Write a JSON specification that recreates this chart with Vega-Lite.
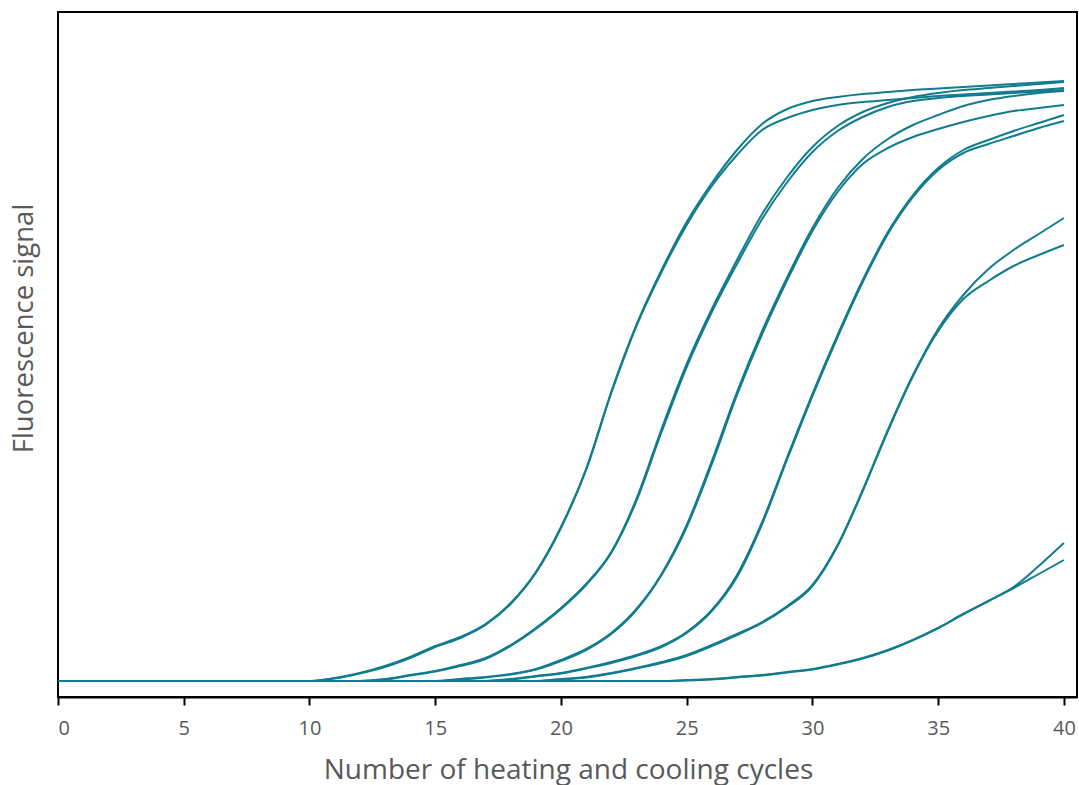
{
  "$schema": "https://vega.github.io/schema/vega-lite/v6.json",
  "autosize": "none",
  "width": 1019,
  "height": 685,
  "padding": {"left": 58, "top": 12, "right": 2, "bottom": 88},
  "background": "white",
  "config": {
    "view": {"stroke": "black", "strokeWidth": 2},
    "font": "Open Sans"
  },
  "data": {"values": [
    {"s":"A1","c":0,"v":16},{"s":"A1","c":10,"v":16},{"s":"A1","c":11,"v":19},{"s":"A1","c":12,"v":24},{"s":"A1","c":13,"v":31},{"s":"A1","c":14,"v":40},{"s":"A1","c":15,"v":51},{"s":"A1","c":16,"v":60},{"s":"A1","c":17,"v":73},{"s":"A1","c":18,"v":94},{"s":"A1","c":19,"v":125},{"s":"A1","c":20,"v":170},{"s":"A1","c":21,"v":228},{"s":"A1","c":22,"v":305},{"s":"A1","c":23,"v":372},{"s":"A1","c":24,"v":427},{"s":"A1","c":25,"v":475},{"s":"A1","c":26,"v":514},{"s":"A1","c":27,"v":547},{"s":"A1","c":28,"v":573},{"s":"A1","c":29,"v":588},{"s":"A1","c":30,"v":596},{"s":"A1","c":31,"v":600},{"s":"A1","c":32,"v":603},{"s":"A1","c":33,"v":605},{"s":"A1","c":34,"v":607},{"s":"A1","c":35,"v":608.5},{"s":"A1","c":36,"v":610},{"s":"A1","c":37,"v":611.5},{"s":"A1","c":38,"v":613},{"s":"A1","c":39,"v":614.5},{"s":"A1","c":40,"v":616},
    {"s":"A2","c":0,"v":16},{"s":"A2","c":10,"v":16},{"s":"A2","c":11,"v":18.5},{"s":"A2","c":12,"v":23.5},{"s":"A2","c":13,"v":30},{"s":"A2","c":14,"v":39},{"s":"A2","c":15,"v":50},{"s":"A2","c":16,"v":59},{"s":"A2","c":17,"v":72},{"s":"A2","c":18,"v":93},{"s":"A2","c":19,"v":124},{"s":"A2","c":20,"v":169},{"s":"A2","c":21,"v":227},{"s":"A2","c":22,"v":304},{"s":"A2","c":23,"v":371},{"s":"A2","c":24,"v":425},{"s":"A2","c":25,"v":472},{"s":"A2","c":26,"v":511},{"s":"A2","c":27,"v":542},{"s":"A2","c":28,"v":567},{"s":"A2","c":29,"v":579},{"s":"A2","c":30,"v":587},{"s":"A2","c":31,"v":592},{"s":"A2","c":32,"v":595},{"s":"A2","c":33,"v":597},{"s":"A2","c":34,"v":599},{"s":"A2","c":35,"v":601},{"s":"A2","c":36,"v":602.5},{"s":"A2","c":37,"v":604},{"s":"A2","c":38,"v":605.5},{"s":"A2","c":39,"v":607},{"s":"A2","c":40,"v":609},
    {"s":"B1","c":0,"v":16},{"s":"B1","c":12,"v":16},{"s":"B1","c":13,"v":18},{"s":"B1","c":14,"v":22},{"s":"B1","c":15,"v":26},{"s":"B1","c":16,"v":32},{"s":"B1","c":17,"v":39},{"s":"B1","c":18,"v":52},{"s":"B1","c":19,"v":69},{"s":"B1","c":20,"v":89},{"s":"B1","c":21,"v":113},{"s":"B1","c":22,"v":145},{"s":"B1","c":23,"v":198},{"s":"B1","c":24,"v":268},{"s":"B1","c":25,"v":333},{"s":"B1","c":26,"v":388},{"s":"B1","c":27,"v":437},{"s":"B1","c":28,"v":483},{"s":"B1","c":29,"v":520},{"s":"B1","c":30,"v":550},{"s":"B1","c":31,"v":571},{"s":"B1","c":32,"v":585},{"s":"B1","c":33,"v":594},{"s":"B1","c":34,"v":600},{"s":"B1","c":35,"v":604},{"s":"B1","c":36,"v":607},{"s":"B1","c":37,"v":609},{"s":"B1","c":38,"v":611},{"s":"B1","c":39,"v":613},{"s":"B1","c":40,"v":615},
    {"s":"B2","c":0,"v":16},{"s":"B2","c":12,"v":16},{"s":"B2","c":13,"v":17.5},{"s":"B2","c":14,"v":21.5},{"s":"B2","c":15,"v":25.5},{"s":"B2","c":16,"v":31},{"s":"B2","c":17,"v":38},{"s":"B2","c":18,"v":51},{"s":"B2","c":19,"v":68},{"s":"B2","c":20,"v":88},{"s":"B2","c":21,"v":112},{"s":"B2","c":22,"v":144},{"s":"B2","c":23,"v":196},{"s":"B2","c":24,"v":265},{"s":"B2","c":25,"v":330},{"s":"B2","c":26,"v":385},{"s":"B2","c":27,"v":433},{"s":"B2","c":28,"v":478},{"s":"B2","c":29,"v":515},{"s":"B2","c":30,"v":545},{"s":"B2","c":31,"v":566},{"s":"B2","c":32,"v":580},{"s":"B2","c":33,"v":590},{"s":"B2","c":34,"v":596},{"s":"B2","c":35,"v":599},{"s":"B2","c":36,"v":601},{"s":"B2","c":37,"v":602.5},{"s":"B2","c":38,"v":604},{"s":"B2","c":39,"v":605.5},{"s":"B2","c":40,"v":607},
    {"s":"C1","c":0,"v":16},{"s":"C1","c":15,"v":16},{"s":"C1","c":16,"v":18},{"s":"C1","c":17,"v":20},{"s":"C1","c":18,"v":23},{"s":"C1","c":19,"v":28},{"s":"C1","c":20,"v":37},{"s":"C1","c":21,"v":48},{"s":"C1","c":22,"v":64},{"s":"C1","c":23,"v":88},{"s":"C1","c":24,"v":123},{"s":"C1","c":25,"v":172},{"s":"C1","c":26,"v":236},{"s":"C1","c":27,"v":305},{"s":"C1","c":28,"v":366},{"s":"C1","c":29,"v":420},{"s":"C1","c":30,"v":469},{"s":"C1","c":31,"v":509},{"s":"C1","c":32,"v":538},{"s":"C1","c":33,"v":558},{"s":"C1","c":34,"v":572},{"s":"C1","c":35,"v":582},{"s":"C1","c":36,"v":591},{"s":"C1","c":37,"v":597},{"s":"C1","c":38,"v":601},{"s":"C1","c":39,"v":604},{"s":"C1","c":40,"v":606},
    {"s":"C2","c":0,"v":16},{"s":"C2","c":15,"v":16},{"s":"C2","c":16,"v":17.5},{"s":"C2","c":17,"v":19.5},{"s":"C2","c":18,"v":22.5},{"s":"C2","c":19,"v":27.5},{"s":"C2","c":20,"v":36},{"s":"C2","c":21,"v":47},{"s":"C2","c":22,"v":63},{"s":"C2","c":23,"v":87},{"s":"C2","c":24,"v":122},{"s":"C2","c":25,"v":170},{"s":"C2","c":26,"v":233},{"s":"C2","c":27,"v":302},{"s":"C2","c":28,"v":363},{"s":"C2","c":29,"v":417},{"s":"C2","c":30,"v":466},{"s":"C2","c":31,"v":505},{"s":"C2","c":32,"v":533},{"s":"C2","c":33,"v":549},{"s":"C2","c":34,"v":560},{"s":"C2","c":35,"v":568},{"s":"C2","c":36,"v":575},{"s":"C2","c":37,"v":581},{"s":"C2","c":38,"v":586},{"s":"C2","c":39,"v":589},{"s":"C2","c":40,"v":592},
    {"s":"D1","c":0,"v":16},{"s":"D1","c":17,"v":16},{"s":"D1","c":18,"v":18},{"s":"D1","c":19,"v":21},{"s":"D1","c":20,"v":24},{"s":"D1","c":21,"v":29},{"s":"D1","c":22,"v":35},{"s":"D1","c":23,"v":42},{"s":"D1","c":24,"v":51},{"s":"D1","c":25,"v":65},{"s":"D1","c":26,"v":87},{"s":"D1","c":27,"v":122},{"s":"D1","c":28,"v":175},{"s":"D1","c":29,"v":240},{"s":"D1","c":30,"v":303},{"s":"D1","c":31,"v":362},{"s":"D1","c":32,"v":417},{"s":"D1","c":33,"v":465},{"s":"D1","c":34,"v":502},{"s":"D1","c":35,"v":529},{"s":"D1","c":36,"v":547},{"s":"D1","c":37,"v":557},{"s":"D1","c":38,"v":566},{"s":"D1","c":39,"v":574},{"s":"D1","c":40,"v":582},
    {"s":"D2","c":0,"v":16},{"s":"D2","c":17,"v":16},{"s":"D2","c":18,"v":17.5},{"s":"D2","c":19,"v":20.5},{"s":"D2","c":20,"v":23.5},{"s":"D2","c":21,"v":28.5},{"s":"D2","c":22,"v":34},{"s":"D2","c":23,"v":41},{"s":"D2","c":24,"v":50},{"s":"D2","c":25,"v":64},{"s":"D2","c":26,"v":86},{"s":"D2","c":27,"v":120},{"s":"D2","c":28,"v":173},{"s":"D2","c":29,"v":238},{"s":"D2","c":30,"v":301},{"s":"D2","c":31,"v":360},{"s":"D2","c":32,"v":415},{"s":"D2","c":33,"v":463},{"s":"D2","c":34,"v":500},{"s":"D2","c":35,"v":527},{"s":"D2","c":36,"v":544},{"s":"D2","c":37,"v":553},{"s":"D2","c":38,"v":561},{"s":"D2","c":39,"v":569},{"s":"D2","c":40,"v":576},
    {"s":"E1","c":0,"v":16},{"s":"E1","c":19,"v":16},{"s":"E1","c":20,"v":18},{"s":"E1","c":21,"v":20},{"s":"E1","c":22,"v":24},{"s":"E1","c":23,"v":29},{"s":"E1","c":24,"v":35},{"s":"E1","c":25,"v":42},{"s":"E1","c":26,"v":52},{"s":"E1","c":27,"v":63},{"s":"E1","c":28,"v":75},{"s":"E1","c":29,"v":91},{"s":"E1","c":30,"v":112},{"s":"E1","c":31,"v":152},{"s":"E1","c":32,"v":207},{"s":"E1","c":33,"v":267},{"s":"E1","c":34,"v":322},{"s":"E1","c":35,"v":368},{"s":"E1","c":36,"v":402},{"s":"E1","c":37,"v":428},{"s":"E1","c":38,"v":447},{"s":"E1","c":39,"v":463},{"s":"E1","c":40,"v":479},
    {"s":"E2","c":0,"v":16},{"s":"E2","c":19,"v":16},{"s":"E2","c":20,"v":17.5},{"s":"E2","c":21,"v":19.5},{"s":"E2","c":22,"v":23.5},{"s":"E2","c":23,"v":28.5},{"s":"E2","c":24,"v":34},{"s":"E2","c":25,"v":41},{"s":"E2","c":26,"v":51},{"s":"E2","c":27,"v":62},{"s":"E2","c":28,"v":74},{"s":"E2","c":29,"v":90},{"s":"E2","c":30,"v":111},{"s":"E2","c":31,"v":151},{"s":"E2","c":32,"v":206},{"s":"E2","c":33,"v":266},{"s":"E2","c":34,"v":321},{"s":"E2","c":35,"v":366},{"s":"E2","c":36,"v":398},{"s":"E2","c":37,"v":416},{"s":"E2","c":38,"v":431},{"s":"E2","c":39,"v":442},{"s":"E2","c":40,"v":452},
    {"s":"F1","c":0,"v":16},{"s":"F1","c":24,"v":16},{"s":"F1","c":25,"v":17},{"s":"F1","c":26,"v":18},{"s":"F1","c":27,"v":20},{"s":"F1","c":28,"v":22},{"s":"F1","c":29,"v":25},{"s":"F1","c":30,"v":28},{"s":"F1","c":31,"v":33},{"s":"F1","c":32,"v":39},{"s":"F1","c":33,"v":47},{"s":"F1","c":34,"v":57},{"s":"F1","c":35,"v":69},{"s":"F1","c":36,"v":83},{"s":"F1","c":37,"v":96},{"s":"F1","c":38,"v":110},{"s":"F1","c":39,"v":131},{"s":"F1","c":40,"v":154},
    {"s":"F2","c":0,"v":16},{"s":"F2","c":24,"v":16},{"s":"F2","c":25,"v":16.5},{"s":"F2","c":26,"v":17.5},{"s":"F2","c":27,"v":19.5},{"s":"F2","c":28,"v":21.5},{"s":"F2","c":29,"v":24.5},{"s":"F2","c":30,"v":27.5},{"s":"F2","c":31,"v":32.5},{"s":"F2","c":32,"v":38.5},{"s":"F2","c":33,"v":46.5},{"s":"F2","c":34,"v":57},{"s":"F2","c":35,"v":69},{"s":"F2","c":36,"v":83},{"s":"F2","c":37,"v":96},{"s":"F2","c":38,"v":109},{"s":"F2","c":39,"v":123},{"s":"F2","c":40,"v":137}
  ]},
  "mark": {"type": "line", "interpolate": "monotone", "color": "#107C8D", "strokeWidth": 2},
  "encoding": {
    "detail": {"field": "s", "type": "nominal"},
    "x": {
      "field": "c", "type": "quantitative",
      "scale": {"domain": [0, 40.52], "nice": false, "zero": false},
      "axis": {
        "values": [0, 5, 10, 15, 20, 25, 30, 35, 40],
        "title": "Number of heating and cooling cycles",
        "grid": false,
        "domainColor": "black", "domainWidth": 2,
        "tickColor": "black", "tickWidth": 2, "tickSize": 8,
        "labelColor": "#595959", "labelFontSize": 20, "labelPadding": 13, "labelFont": "Open Sans",
        "titleColor": "#595959", "titleFontSize": 28, "titleFont": "Open Sans", "titleFontWeight": "normal",
        "titleBaseline": "middle", "titleY": 73, "titleX": 510
      }
    },
    "y": {
      "field": "v", "type": "quantitative",
      "scale": {"domain": [0, 685], "nice": false},
      "axis": {
        "title": "Fluorescence signal",
        "grid": false, "ticks": false, "labels": false, "domain": false,
        "titleColor": "#595959", "titleFontSize": 27.5, "titleFont": "Open Sans", "titleFontWeight": "normal",
        "titleAngle": -90, "titleBaseline": "middle", "titleAlign": "center", "titleX": -34, "titleY": 316
      }
    }
  }
}
